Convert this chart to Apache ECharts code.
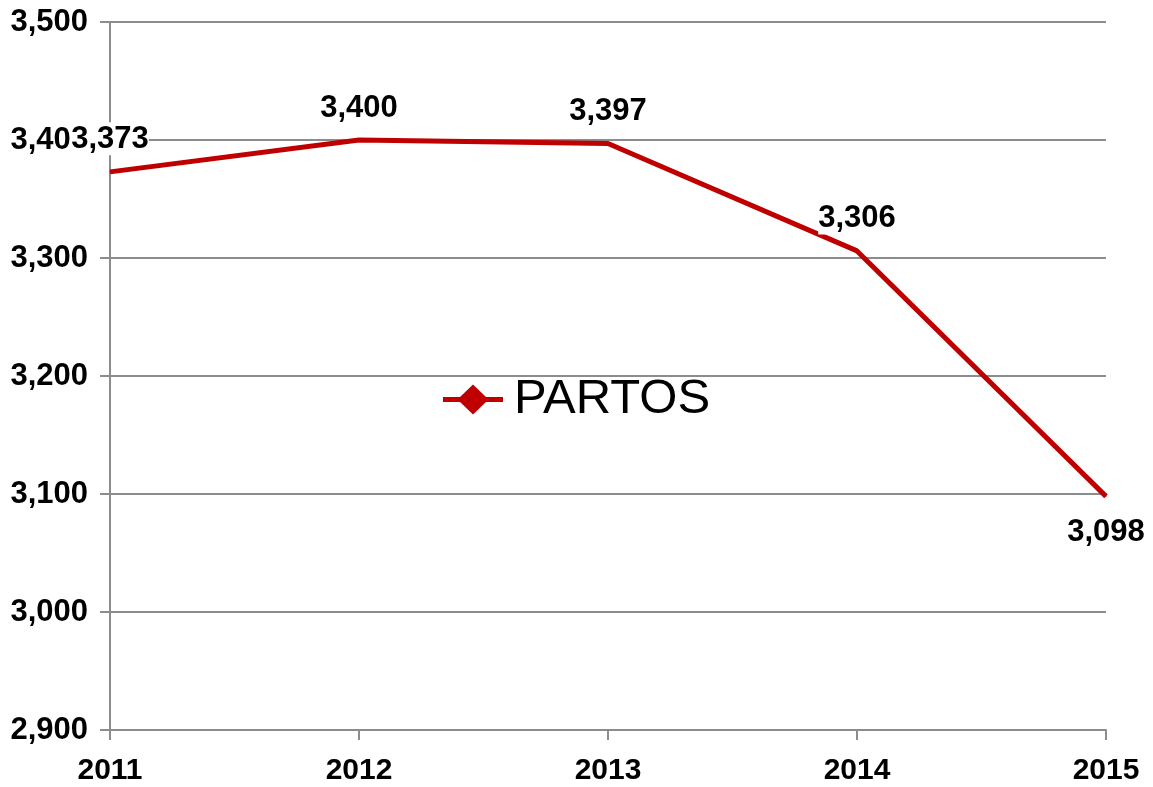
<!DOCTYPE html>
<html>
<head>
<meta charset="utf-8">
<script src="https://cdn.jsdelivr.net/npm/echarts@6/dist/echarts.min.js"></script>
<style>
  html, body { margin: 0; padding: 0; background: #fff; }
  #chart { width: 1153px; height: 787px; }
</style>
</head>
<body>
<div id="chart"></div>
<script>
// Births per year
const years = ['2011', '2012', '2013', '2014', '2015'];
const partos = [3373, 3400, 3397, 3306, 3098];
const seriesName = 'PARTOS';

const font = '"Liberation Sans", Arial, Helvetica, sans-serif';
const gray = '#8c8c8c';
const red = '#c00000';

const fmt = v => v.toLocaleString('en-US');

const chart = echarts.init(document.getElementById('chart'));
chart.setOption({
  animation: false,
  backgroundColor: '#fff',
  grid: { left: 110, right: 47, top: 22, bottom: 57, containLabel: false },
  legend: {
    left: 443,
    top: 375,
    padding: 0,
    itemWidth: 60,
    itemHeight: 30,
    itemGap: 10,
    textStyle: { fontFamily: font, fontSize: 49, color: '#000', padding: [0, 0, 0, 6] },
    data: [{
      name: seriesName,
      icon: 'path://M0,12.5 L17,12.5 L30,0 L43,12.5 L60,12.5 L60,17.5 L43,17.5 L30,30 L17,17.5 L0,17.5 Z',
      itemStyle: { color: red, opacity: 1 }
    }]
  },
  xAxis: {
    type: 'category',
    data: years,
    boundaryGap: false,
    axisLine: { lineStyle: { color: gray, width: 2 } },
    axisTick: { show: true, length: 10, alignWithLabel: true, lineStyle: { color: gray, width: 2 } },
    axisLabel: { fontFamily: font, fontSize: 30, fontWeight: 'bold', color: '#000', margin: 26 },
    splitLine: { show: false }
  },
  yAxis: {
    type: 'value',
    min: 2900,
    max: 3500,
    interval: 100,
    axisLine: { show: true, lineStyle: { color: gray, width: 2 } },
    axisTick: { show: true, length: 10, lineStyle: { color: gray, width: 2 } },
    axisLabel: { fontFamily: font, fontSize: 31, fontWeight: 'bold', color: '#000', margin: 22, formatter: fmt },
    splitLine: { show: true, lineStyle: { color: gray, width: 2 } }
  },
  series: [{
    name: seriesName,
    type: 'line',
    data: partos.map((v, i) => i === partos.length - 1
      ? { value: v, label: { position: 'bottom', distance: 18 } }
      : v),
    symbol: 'circle',
    symbolSize: 1,
    showSymbol: true,
    lineStyle: { color: red, width: 5 },
    itemStyle: { color: red },
    z: 3,
    label: {
      show: true,
      position: 'top',
      distance: 16,
      fontFamily: font,
      fontSize: 31,
      fontWeight: 'bold',
      color: '#000',
      backgroundColor: '#fff',
      padding: [2, 0, 0, 0],
      formatter: p => fmt(p.value)
    }
  }]
});
</script>
</body>
</html>
